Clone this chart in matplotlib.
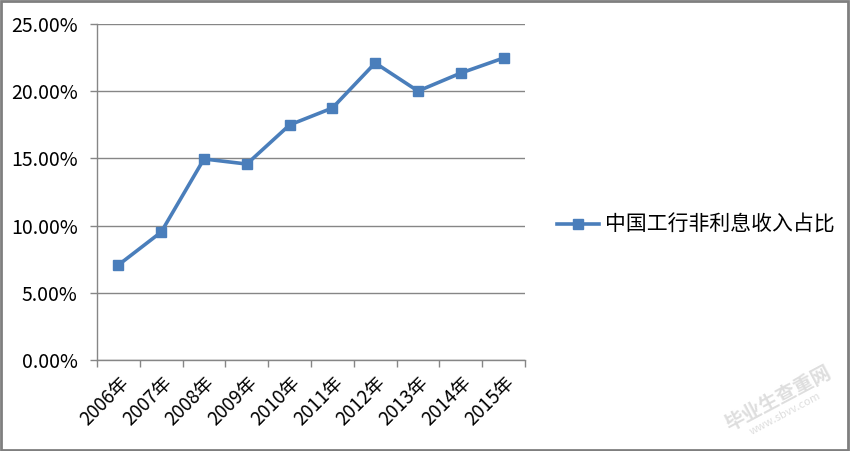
import matplotlib
matplotlib.use("Agg")
import matplotlib.pyplot as plt
from matplotlib.ticker import FuncFormatter, FixedLocator
from matplotlib.patches import Rectangle

plt.rcParams['font.family'] = ['Noto Sans CJK SC', 'DejaVu Sans']

years = ['2006年', '2007年', '2008年', '2009年', '2010年',
         '2011年', '2012年', '2013年', '2014年', '2015年']
ratio = [7.07, 9.52, 14.96, 14.58, 17.49, 18.75, 22.10, 20.01, 21.35, 22.47]
series_name = '中国工行非利息收入占比'
yticks = [0, 5, 10, 15, 20, 25]

fig = plt.figure(figsize=(8.5, 4.51), dpi=100)
ax = fig.add_axes([97/850, 1-360/451, (525-97)/850, (360-24)/451])

x = list(range(len(years)))
line_color = '#4A7EBB'
ax.plot(x, ratio, color=line_color, lw=2.6, marker='s', markersize=7.5,
        markerfacecolor=line_color, markeredgecolor=line_color,
        label=series_name, solid_joinstyle='miter', zorder=3)

ax.set_xlim(-0.5, len(years) - 0.5)
ax.set_ylim(0, 25)
ax.set_yticks(yticks)
ax.yaxis.set_major_formatter(FuncFormatter(lambda v, p: f'{v:.2f}%'))
ax.grid(axis='y', color='#868686', lw=1)
ax.set_axisbelow(True)

# category ticks at boundaries, labels at centers
ax.xaxis.set_major_locator(FixedLocator([i - 0.5 for i in range(len(years) + 1)]))
ax.xaxis.set_minor_locator(FixedLocator(x))
ax.set_xticklabels([''] * (len(years) + 1))
ax.set_xticklabels(years, minor=True, rotation=45, ha='right', va='top',
                   rotation_mode='anchor', fontsize=13.5)
ax.tick_params(axis='x', which='major', length=5, color='#868686', width=1)
ax.tick_params(axis='x', which='minor', length=0, pad=9)
ax.tick_params(axis='y', length=5, color='#868686', width=1, labelsize=14, pad=9)

for s in ['top', 'right']:
    ax.spines[s].set_visible(False)
for s in ['left', 'bottom']:
    ax.spines[s].set_color('#868686')
    ax.spines[s].set_linewidth(1)

leg = fig.legend(loc='center left', bbox_to_anchor=(557/850, 1-225/451),
                 frameon=False, fontsize=15, handlelength=2.0, handletextpad=0.3,
                 borderpad=0, borderaxespad=0)

# watermark
fig.text(778/850, 1-399/451, '毕业生查重网', rotation=28, fontsize=14,
         color='#d0d0d0', alpha=0.7, ha='center', va='center', fontweight='bold')
fig.text(785/850, 1-414/451, 'www.sbvv.com', rotation=28, fontsize=8,
         color='#d0d0d0', alpha=0.7, ha='center', va='center')

# figure border
fig.patches.append(Rectangle((0.001, 0.002), 0.997, 0.996, transform=fig.transFigure,
                             fill=False, edgecolor='#7f7f7f', lw=2))

fig.savefig('out.png', dpi=100)
